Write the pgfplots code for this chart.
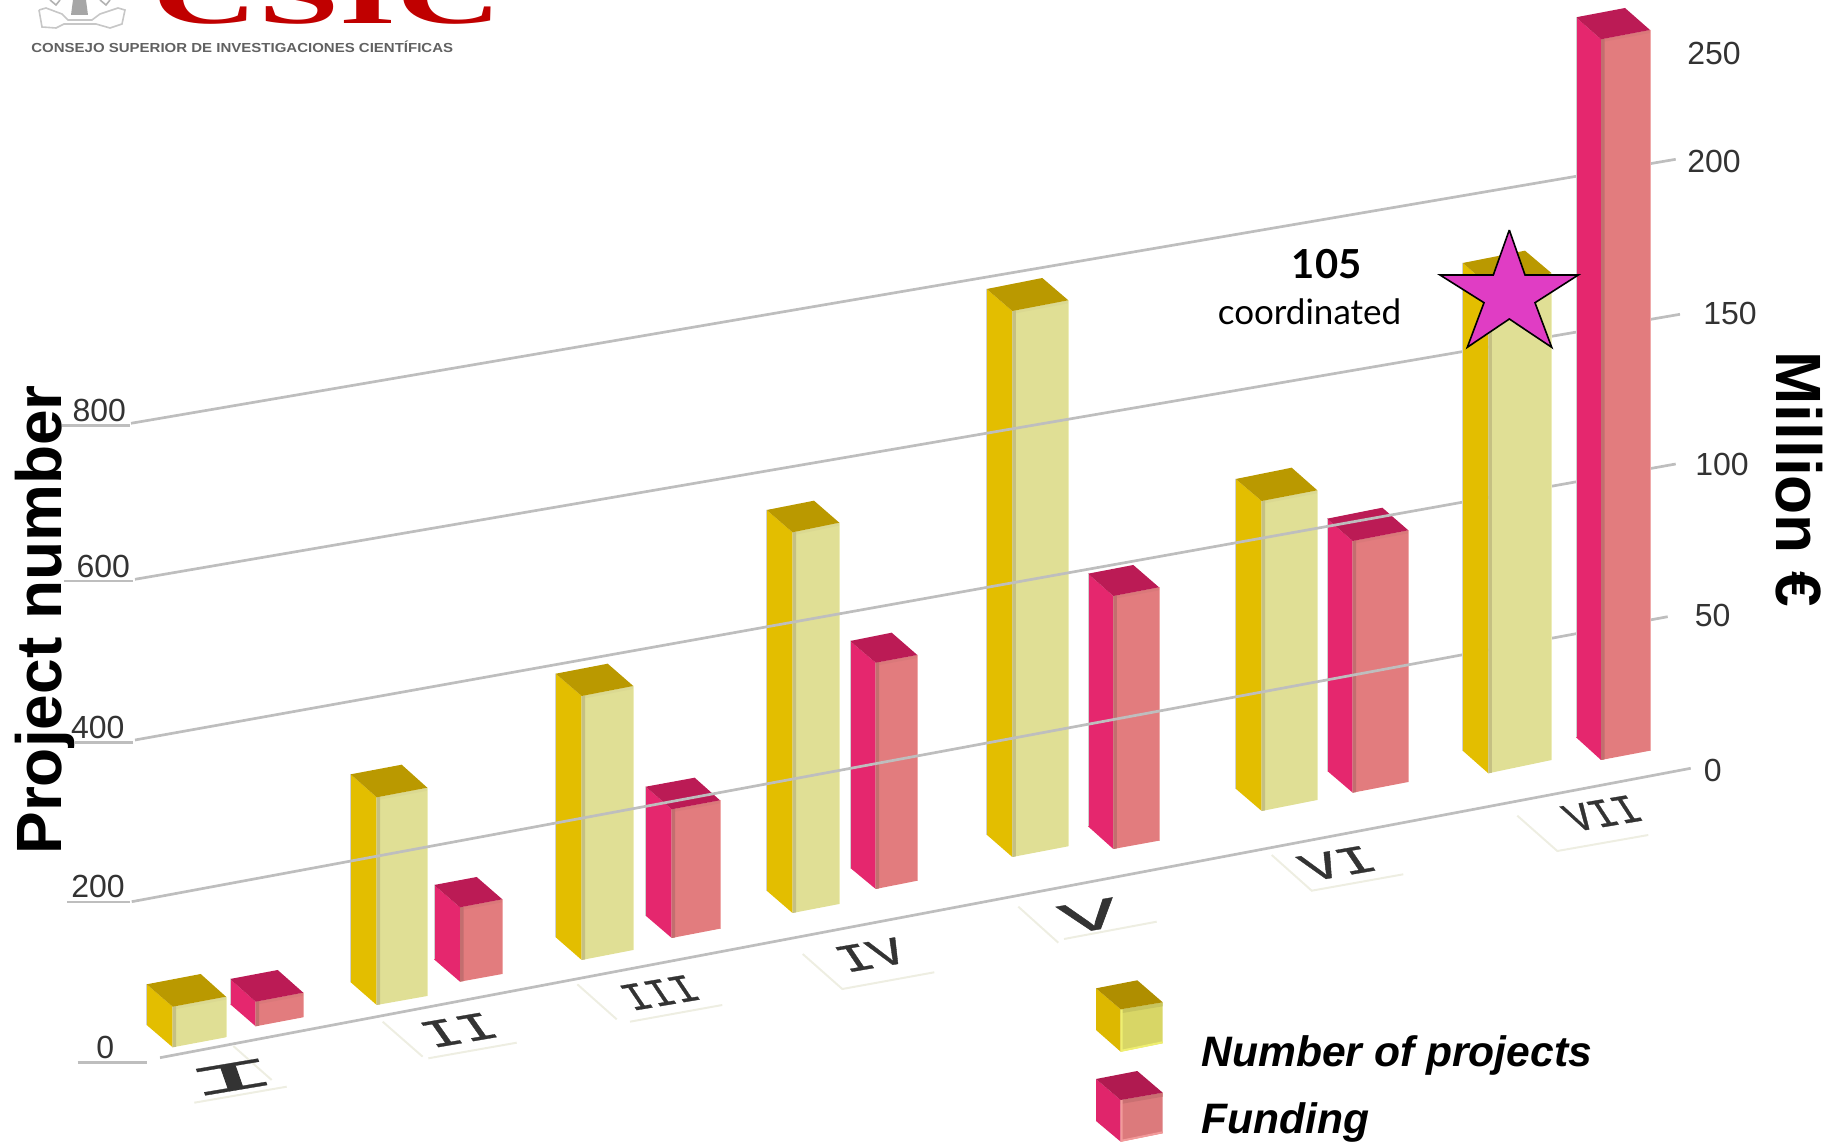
\documentclass[border=0pt]{standalone}
\usepackage{pgfplots}
\pgfplotsset{compat=1.18}
\usepackage{fontspec}
\setmainfont{Liberation Sans}
\newfontfamily\monof[FakeBold=0.7]{Liberation Mono}
\newfontfamily\serifb{Liberation Serif}
\newfontfamily\gill{Lato}
\definecolor{ys}{HTML}{E3BE00}
\definecolor{yt}{HTML}{BA9900}
\definecolor{yf}{HTML}{E0DF95}
\definecolor{ye}{HTML}{C5C083}
\definecolor{yp}{HTML}{EDEDB8}
\definecolor{ps}{HTML}{E5276E}
\definecolor{pt}{HTML}{BB1B55}
\definecolor{pf}{HTML}{E27C7E}
\definecolor{pe}{HTML}{C26E6F}
\definecolor{pp}{HTML}{EFA9A9}
\definecolor{lys}{HTML}{DDB800}
\definecolor{lyt}{HTML}{AF8E00}
\definecolor{lyf}{HTML}{D8D666}
\definecolor{lye}{HTML}{EFEF70}
\definecolor{lps}{HTML}{E0256B}
\definecolor{lpt}{HTML}{B01A50}
\definecolor{lpf}{HTML}{DC7A7C}
\definecolor{lpe}{HTML}{F29A9A}
\definecolor{grid}{HTML}{BEBEBE}
\definecolor{pale}{HTML}{EEEEE2}
\definecolor{tick}{HTML}{333333}
\definecolor{starc}{HTML}{E03DC4}
\definecolor{csicred}{HTML}{C00000}
\makeatletter
\def\b@x#1,#2,#3,#4\relax{\def\bxL{#1}\def\bxM{#2}\def\bxR{#3}\def\bxB{#4}}
\def\b@t#1,#2,#3,#4\relax{\def\bLT{#1}\def\bMT{#2}\def\bRT{#3}\def\bBT{#4}}
\def\b@b#1,#2,#3\relax{\def\bLB{#1}\def\bMB{#2}\def\bRB{#3}}
% xL,xM,xR,xB  |  top: L,M,R,B  |  bottom: L,M,R  (pixels of the oblique view)
\newcommand\Geo[3]{\b@x#1\relax\b@t#2\relax\b@b#3\relax}
\makeatother
\newcommand\drawY{%
 \addplot[draw=none,fill=ys] coordinates {(\bxL,\bLT)(\bxM,\bMT)(\bxM,\bMB)(\bxL,\bLB)};
 \addplot[draw=none,fill=yf] coordinates {(\bxM,\bMT)(\bxR,\bRT)(\bxR,\bRB)(\bxM,\bMB)};
 \addplot[draw=none,fill=yf!82!ye] coordinates {(\bxM,\bMT)(\bxR,\bRT)(\bxR,\bRT+3)(\bxM,\bMT+3)};
 \addplot[draw=none,fill=ye] coordinates {(\bxM,\bMT)(\bxM+3.5,\bMT-0.6)(\bxM+3.5,\bMB-0.6)(\bxM,\bMB)};
 \addplot[draw=none,fill=yt] coordinates {(\bxL,\bLT)(\bxB,\bBT)(\bxR,\bRT)(\bxM,\bMT)};
 \addplot[draw=yp,line width=0.5pt] coordinates {(\bxR,\bRT)(\bxR,\bRB)};
 \addplot[draw=black!18,line width=0.3pt] coordinates {(\bxL,\bLT)(\bxL,\bLB)};
}
\newcommand\drawP{%
 \addplot[draw=none,fill=ps] coordinates {(\bxL,\bLT)(\bxM,\bMT)(\bxM,\bMB)(\bxL,\bLB)};
 \addplot[draw=none,fill=pf] coordinates {(\bxM,\bMT)(\bxR,\bRT)(\bxR,\bRB)(\bxM,\bMB)};
 \addplot[draw=none,fill=pf!75!pe] coordinates {(\bxM,\bMT)(\bxR,\bRT)(\bxR,\bRT+3)(\bxM,\bMT+3)};
 \addplot[draw=none,fill=pe] coordinates {(\bxM,\bMT)(\bxM+3.5,\bMT-0.6)(\bxM+3.5,\bMB-0.6)(\bxM,\bMB)};
 \addplot[draw=none,fill=pt] coordinates {(\bxL,\bLT)(\bxB,\bBT)(\bxR,\bRT)(\bxM,\bMT)};
 \addplot[draw=pp,line width=0.5pt] coordinates {(\bxR,\bRT)(\bxR,\bRB)};
 \addplot[draw=black!18,line width=0.3pt] coordinates {(\bxL,\bLT)(\bxL,\bLB)};
}
\newcommand\numeral[7]{% x y text a b c d
 \node[inner sep=0pt,text=tick] at (axis cs:#1,#2) {\tikz\node[inner sep=0pt,transform shape,cm={#4,#5,#6,#7,(0pt,0pt)},font=\monof\fontsize{20}{24}\selectfont]{#3};};
}
\newcommand\ticklab[3]{\node[text=tick,inner sep=0pt,font=\fontsize{16}{18}\selectfont] at (axis cs:#1,#2) {#3};}
\begin{document}
\begin{tikzpicture}
\path[use as bounding box,clip] (0,0) rectangle (921.5pt,571.5pt);
\begin{axis}[at={(0pt,0pt)},anchor=south west,scale only axis,width=921.5pt,height=571.5pt,
  xmin=0,xmax=1843,ymin=0,ymax=1143,y dir=reverse,hide axis,clip=false]

% --- logo
\addplot[draw=none,fill=black!35] coordinates {(73,0)(86,0)(88,15)(71,15)};
\addplot[draw=black!22,line width=0.8pt] coordinates {(39,10)(46,8)(62,14)(68,20)(92,20)(100,14)(118,8)(125,10)(122,24)(110,28)(96,24)(84,24)(64,24)(56,28)(42,27)(39,10)};
\addplot[draw=black!30,line width=0.8pt] coordinates {(50,0)(56,5)(60,0)};
\addplot[draw=black!30,line width=0.8pt] coordinates {(100,0)(106,5)(110,0)};
\node[anchor=base west,inner sep=0pt,text=csicred,font=\serifb\bfseries\fontsize{70}{80}\selectfont] at (axis cs:152,24) {\scalebox{1.045}[0.6]{CSIC}};
\node[anchor=base west,inner sep=0pt,text=black!62,font=\bfseries\fontsize{6.55}{8}\selectfont] at (axis cs:31,53) {\scalebox{1.145}[1]{CONSEJO SUPERIOR DE INVESTIGACIONES CIENTÍFICAS}};

% --- bars I to VI
\Geo{146.7,172.7,226,200.7}{984.3,1006.7,996.7,974}{1025,1047.3,1037.3}\drawY
\Geo{230,255.7,303.3,277.7}{979,1001.7,992.7,970}{1004,1026.3,1017.3}\drawP
\Geo{350.7,376.7,427.3,401.7}{774.3,797.3,787.7,764.7}{982.3,1005,996}\drawY
\Geo{434,460,502.3,476.7}{885,907.3,899.3,877}{959.3,981.7,974}\drawP
\Geo{555.7,581.7,633.3,607.7}{673.7,696,686,663.7}{937.3,960,950}\drawY
\Geo{645.7,671.7,720,694.7}{786.7,809.3,800.3,777.7}{915.7,938,928.7}\drawP
\Geo{766.7,792.5,839.3,814}{510,532.3,522.7,500.7}{890.7,913,904}\drawY
\Geo{850,875.7,917.3,891.7}{641,662.7,655,632.7}{867.7,889,880.7}\drawP
\Geo{986.7,1012.3,1068.3,1042.3}{289,311,300.3,278}{834.7,857,846.3}\drawY
\Geo{1088,1113.3,1159,1133.3}{573.7,596,587.3,565}{826.3,849,840.7}\drawP
\Geo{1235.7,1261.7,1317.3,1291.7}{479,501,490.3,467.7}{788.7,811,800}\drawY
\Geo{1327,1352.7,1408.3,1382.3}{518.7,541,530.3,507.7}{770.7,792.7,782}\drawP

% --- grid lines and tick stubs
\addplot[draw=grid,line width=1.35pt] coordinates {(62,425.7)(130,425.7)};
\addplot[draw=grid,line width=1.35pt] coordinates {(131,423.3)(1675.7,159.3)};
\addplot[draw=grid,line width=1.35pt] coordinates {(64,581)(133.3,581)};
\addplot[draw=grid,line width=1.35pt] coordinates {(135,579.3)(1680,314.3)};
\addplot[draw=grid,line width=1.35pt] coordinates {(75,742.7)(133.3,742.7)};
\addplot[draw=grid,line width=1.35pt] coordinates {(135,740)(1675.7,464)};
\addplot[draw=grid,line width=1.35pt] coordinates {(67,902)(130,902)};
\addplot[draw=grid,line width=1.35pt] coordinates {(131.7,901.7)(1667.7,616.7)};
\addplot[draw=grid,line width=1.35pt] coordinates {(77.5,1062.7)(146.7,1062.7)};
\addplot[draw=grid,line width=1.35pt] coordinates {(160,1057.7)(1690.7,768.3)};

% --- floor frames of the category labels
\addplot[draw=pale,line width=1pt] coordinates {(233.3,1046)(271.7,1080)};
\addplot[draw=pale,line width=1pt] coordinates {(194.3,1102.7)(286.7,1086.7)};
\addplot[draw=pale,line width=1pt] coordinates {(382.7,1021.7)(422.7,1056.7)};
\addplot[draw=pale,line width=1pt] coordinates {(428.3,1058.3)(516.7,1042.7)};
\addplot[draw=pale,line width=1pt] coordinates {(577.3,984.3)(616.7,1019.3)};
\addplot[draw=pale,line width=1pt] coordinates {(630,1021.7)(722.3,1005)};
\addplot[draw=pale,line width=1pt] coordinates {(802.7,954)(842.3,989)(934.3,972.3)};
\addplot[draw=pale,line width=1pt] coordinates {(1018.3,906.7)(1058.3,942.7)};
\addplot[draw=pale,line width=1pt] coordinates {(1064,939)(1156.7,921.7)};
\addplot[draw=pale,line width=1pt] coordinates {(1271.7,855)(1311.7,890.7)(1403.3,874.3)};
\addplot[draw=pale,line width=1pt] coordinates {(1517.3,815.7)(1557.3,851)(1648.3,835)};

\numeral{231.7}{1077}{I}{3.8}{0.64}{-0.35}{1.0}
\numeral{459}{1030}{II}{1.45}{0.25}{-0.65}{0.92}
\numeral{660}{992.7}{III}{0.98}{0.165}{-0.62}{0.92}
\numeral{871}{955}{IV}{1.35}{0.23}{-0.62}{0.92}
\numeral{1090}{916}{V}{2.4}{0.40}{-0.45}{1.05}
\numeral{1338}{863.3}{VI}{1.45}{0.25}{-0.62}{0.92}
\numeral{1602.7}{813.3}{VII}{0.98}{0.165}{-0.62}{0.95}

% --- bars VII, in front of the grid
\Geo{1462.7,1488.3,1551.7,1525}{263,285,273.3,250.7}{750.7,773.3,760}\drawY
\Geo{1576,1601,1650,1625}{17.3,39.3,30,8}{737.3,760,750.7}\drawP

% --- star
\addplot[draw=black,fill=starc,line width=0.8pt,line join=miter] coordinates {(1509.3,230)(1525,275)(1578.3,275)(1535,302.7)(1551.7,347.3)(1509.3,319)(1467.3,347.3)(1484,302.7)(1440,275)(1493.3,275)(1509.3,230)};
\node[inner sep=0pt,font=\gill\bfseries\fontsize{20}{24}\selectfont] at (axis cs:1326.7,264) {105};
\node[anchor=base,inner sep=0pt,font=\gill\fontsize{17.5}{20}\selectfont] at (axis cs:1309.5,325) {coordinated};

% --- tick labels
\ticklab{1714}{53.5}{250}
\ticklab{1714}{161.5}{200}
\ticklab{1730}{313.2}{150}
\ticklab{1722}{464.5}{100}
\ticklab{1712.7}{615.5}{50}
\ticklab{1712.7}{770.3}{0}
\ticklab{99.3}{410.5}{800}
\ticklab{103.3}{566.5}{600}
\ticklab{97.7}{727.8}{400}
\ticklab{98}{886.5}{200}
\ticklab{105.3}{1047.2}{0}

% --- axis titles
\node[rotate=90,anchor=base west,inner sep=0pt,font=\bfseries\fontsize{32}{36}\selectfont] at (axis cs:61.7,855) {Project number};
\node[rotate=-90,anchor=base west,inner sep=0pt,font=\bfseries\fontsize{32}{36}\selectfont] at (axis cs:1776,351) {Million €};

% --- legend
\Geo{1096,1120.7,1162.7,1137.3}{988.3,1009.3,1002.3,980.3}{1030,1051.7,1043.3}
\addplot[draw=none,fill=lys] coordinates {(\bxL,\bLT)(\bxM,\bMT)(\bxM,\bMB)(\bxL,\bLB)};
\addplot[draw=none,fill=lyf] coordinates {(\bxM,\bMT)(\bxR,\bRT)(\bxR,\bRB)(\bxM,\bMB)};
\addplot[draw=none,fill=lyf!92!black] coordinates {(\bxM,\bMT)(\bxR,\bRT)(\bxR,\bRT+4)(\bxM,\bMT+4)};
\addplot[draw=lye,line width=1pt] coordinates {(\bxM+1,\bMT)(\bxM+1,\bMB-1)(\bxR,\bRB-1)};
\addplot[draw=none,fill=lyt] coordinates {(\bxL,\bLT)(\bxB,\bBT)(\bxR,\bRT)(\bxM,\bMT)};
\Geo{1096,1120.7,1162.7,1137.3}{1079,1100,1092.7,1071}{1121,1141.7,1133.3}
\addplot[draw=none,fill=lps] coordinates {(\bxL,\bLT)(\bxM,\bMT)(\bxM,\bMB)(\bxL,\bLB)};
\addplot[draw=none,fill=lpf] coordinates {(\bxM,\bMT)(\bxR,\bRT)(\bxR,\bRB)(\bxM,\bMB)};
\addplot[draw=none,fill=lpf!92!black] coordinates {(\bxM,\bMT)(\bxR,\bRT)(\bxR,\bRT+4)(\bxM,\bMT+4)};
\addplot[draw=lpe,line width=1pt] coordinates {(\bxM+1,\bMT)(\bxM+1,\bMB-1)(\bxR,\bRB-1)};
\addplot[draw=none,fill=lpt] coordinates {(\bxL,\bLT)(\bxB,\bBT)(\bxR,\bRT)(\bxM,\bMT)};
\node[anchor=base west,inner sep=0pt,font=\bfseries\itshape\fontsize{21.3}{24}\selectfont] at (axis cs:1201,1066.7) {Number of projects};
\node[anchor=base west,inner sep=0pt,font=\bfseries\itshape\fontsize{21.3}{24}\selectfont] at (axis cs:1201,1133.3) {Funding};
\end{axis}
\end{tikzpicture}
\end{document}
